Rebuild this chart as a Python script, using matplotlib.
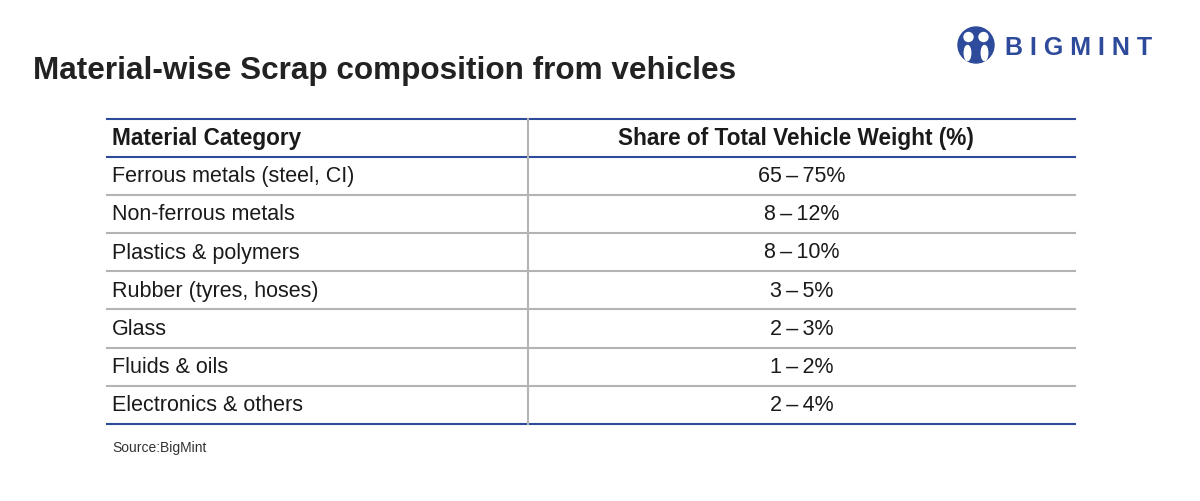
import matplotlib.pyplot as plt
from matplotlib.patches import Circle, Ellipse

plt.rcParams['font.family'] = ['Liberation Sans', 'DejaVu Sans']

title = "Material-wise Scrap composition from vehicles"
headers = ["Material Category", "Share of Total Vehicle Weight (%)"]
categories = ["Ferrous metals (steel, CI)", "Non-ferrous metals", "Plastics & polymers",
              "Rubber (tyres, hoses)", "Glass", "Fluids & oils", "Electronics & others"]
shares = ["65\u2009–\u200975%", "8\u2009–\u200912%", "8\u2009–\u200910%", "3\u2009–\u20095%",
          "2\u2009–\u20093%", "1\u2009–\u20092%", "2\u2009–\u20094%"]
source = "Source:BigMint"

blue = "#2e4b9b"
grey = "#b4b4b4"
text_col = "#1a1a1a"

fig = plt.figure(figsize=(12, 5.01), dpi=100)
ax = fig.add_axes([0, 0, 1, 1])
ax.set_xlim(0, 1200)
ax.set_ylim(501, 0)
ax.axis("off")

# table geometry in pixels
left, right, divider = 107, 1075, 528
top, header_bottom, row_h = 119, 156.5, 38.2
n = len(categories)
bottom = header_bottom + n * row_h

ax.text(33, 71, title, fontsize=22.7, fontweight="bold", color="#222222", va="center")

# header
ax.plot([left, right], [top, top], color=blue, lw=1.5)
ax.plot([left, right], [header_bottom, header_bottom], color=blue, lw=1.5)
ax.text(left + 5, (top + header_bottom) / 2 + 1, headers[0], fontsize=16.3, fontweight="bold",
        color=text_col, va="center")
ax.text((divider + right) / 2 - 6, (top + header_bottom) / 2 + 1, headers[1], fontsize=16.3,
        fontweight="bold", color=text_col, va="center", ha="center")

for i, (cat, sh) in enumerate(zip(categories, shares)):
    y0 = header_bottom + i * row_h
    yc = y0 + row_h / 2 + 1
    ax.text(left + 5, yc, cat, fontsize=15.5, color=text_col, va="center")
    ax.text((divider + right) / 2, yc, sh, fontsize=15.5, color=text_col, va="center", ha="center")
    if i < n - 1:
        ax.plot([left, right], [y0 + row_h, y0 + row_h], color=grey, lw=1.5)

ax.plot([left, right], [bottom, bottom], color=blue, lw=1.5)
ax.plot([divider, divider], [top, bottom], color=grey, lw=1.5)

ax.text(left + 5, 448, source, fontsize=10, color="#333333", va="center")

# logo
ax.add_patch(Circle((976, 45), 18, color=blue))
ax.add_patch(Circle((968.5, 37), 4.5, color="white"))
ax.add_patch(Circle((983.5, 37), 4.5, color="white"))
ax.add_patch(Ellipse((967.5, 53), 6.5, 15, color="white"))
ax.add_patch(Ellipse((984.5, 53), 6.5, 15, color="white"))
ax.text(1079, 48, "B I G M I N T", fontsize=18, fontweight="bold", color=blue,
        va="center", ha="center")

fig.savefig("out.png", dpi=100)
